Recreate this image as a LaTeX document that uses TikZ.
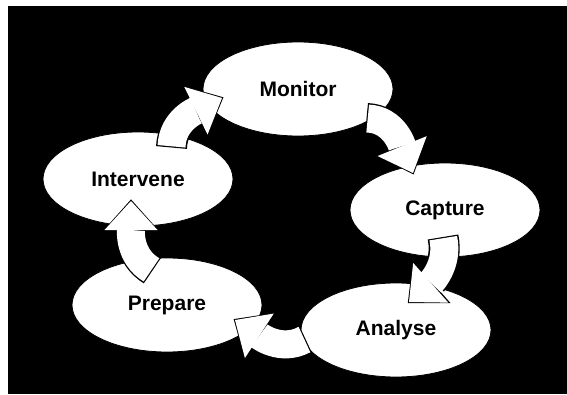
\documentclass[tikz,border=0pt]{standalone}
\usepackage{fontspec}
\setmainfont{Liberation Sans}
\usetikzlibrary{arrows.meta,shapes.geometric}

\begin{document}
\begin{tikzpicture}[x=1pt,y=1pt,
    stage/.style={ellipse, fill=white, draw=black, line width=0.8pt,
        minimum width=190pt, minimum height=94pt, inner sep=0pt,
        font=\fontsize{21}{25}\selectfont\bfseries},
    rim/.style={black, line width=31pt, shorten >=-1.6pt,
        -{Triangle[length=32pt,width=57pt,line width=0pt]}},
    band/.style={white, line width=28pt, shorten <=1.2pt,
        -{Triangle[length=29pt,width=53pt,line width=0pt]}}]

        \useasboundingbox (0,0) rectangle (567,394);
        \fill[black] (8,0) rectangle (567,388);

        \node[stage] (monitor) at (298,305) {Monitor};
        \node[stage] (capture) at (445,184) {Capture};
        \node[stage] (analyse) at (396,64) {Analyse};
        \node[stage] (prepare) at (167,89) {Prepare};
        \node[stage] (intervene) at (138,215) {Intervene};

        % tail and tip of each block arrow
        \coordinate (im-tail) at (171.5,246.5);
        \coordinate (im-tip) at (222,296);
        \coordinate (mc-tail) at (366.5,275.5);
        \coordinate (mc-tip) at (413,221);
        \coordinate (ca-tail) at (443,157);
        \coordinate (ca-tip) at (409,92);
        \coordinate (ap-tail) at (305.5,55);
        \coordinate (ap-tip) at (235,74);
        \coordinate (pi-tail) at (152.5,123.5);
        \coordinate (pi-tip) at (131,193);

        \foreach \a/\o/\i in {im/88/206, mc/-2/112, ca/282/41.5, ap/208/327, pi/149/270}{
            \draw[rim] (\a-tail) to[out=\o,in=\i] (\a-tip);
            \draw[band] (\a-tail) to[out=\o,in=\i] (\a-tip);
        }

    \end{tikzpicture}
\end{document}
